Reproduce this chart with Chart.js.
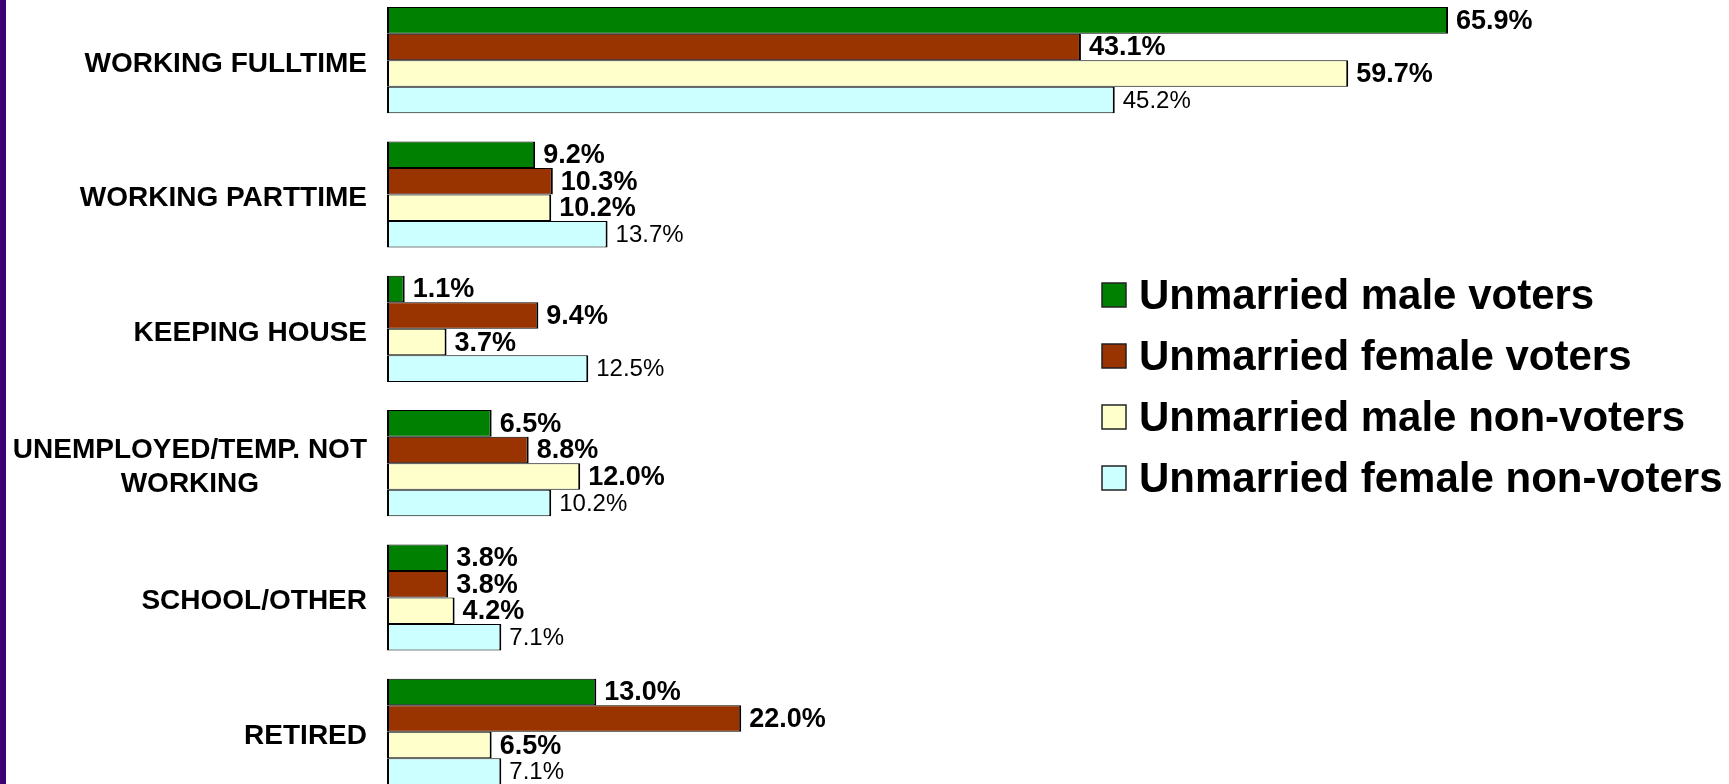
<!DOCTYPE html>
<html>
<head>
<meta charset="utf-8">
<title>Employment status - unmarried voters and non-voters</title>
<script src="https://cdn.jsdelivr.net/npm/chart.js@4.4.1/dist/chart.umd.min.js"></script>
<style>
  html, body { margin: 0; padding: 0; background: #fff; overflow: hidden; }
  body { width: 1729px; height: 784px; position: relative; }
  #stripe { position: absolute; left: 0; top: 0; width: 6px; height: 784px; background: #3c0074; }
  #chart01 { position: absolute; left: 0; top: -7px; }
</style>
</head>
<body>
<canvas id="chart01" width="1729" height="806"></canvas>
<div id="stripe"></div>
<script>
// data
const categories = [
  "WORKING FULLTIME",
  "WORKING PARTTIME",
  "KEEPING HOUSE",
  ["UNEMPLOYED/TEMP. NOT", "WORKING"],
  "SCHOOL/OTHER",
  "RETIRED",
];
const seriesNames = [
  "Unmarried male voters",
  "Unmarried female voters",
  "Unmarried male non-voters",
  "Unmarried female non-voters",
];
const maleVoters = [65.9, 9.2, 1.1, 6.5, 3.8, 13.0];
const femaleVoters = [43.1, 10.3, 9.4, 8.8, 3.8, 22.0];
const maleNonVoters = [59.7, 10.2, 3.7, 12.0, 4.2, 6.5];
const femaleNonVoters = [45.2, 13.7, 12.5, 10.2, 7.1, 7.1];

const seriesColors = ["#008000", "#993300", "#ffffcc", "#ccffff"];
const FONT = '"Liberation Sans", Arial, sans-serif';

var ChartPage = {
  init() {
    this.drawBarChart();
  },

  // y labels, right aligned as a block, lines centred inside it
  categoryLabels: {
    id: "categoryLabels",
    afterDraw(chart) {
      const ctx = chart.ctx;
      const yScale = chart.scales.y;
      const right = chart.chartArea.left - 20;
      const lineHeight = 34;
      ctx.save();
      ctx.font = "bold 28px " + FONT;
      ctx.fillStyle = "#000";
      ctx.textAlign = "center";
      ctx.textBaseline = "middle";
      chart.data.labels.forEach((label, i) => {
        const lines = Array.isArray(label) ? label : [label];
        const blockWidth = Math.max(...lines.map((l) => ctx.measureText(l).width));
        const cx = right - blockWidth / 2;
        const y0 = yScale.getPixelForValue(i) + 4 - ((lines.length - 1) * lineHeight) / 2;
        lines.forEach((line, j) => ctx.fillText(line, cx, y0 + j * lineHeight));
      });
      ctx.restore();
    },
  },

  valueLabels: {
    id: "valueLabels",
    afterDatasetsDraw(chart) {
      const ctx = chart.ctx;
      ctx.save();
      ctx.fillStyle = "#000";
      ctx.textAlign = "left";
      ctx.textBaseline = "middle";
      chart.data.datasets.forEach((ds, di) => {
        const meta = chart.getDatasetMeta(di);
        const plain = di === 3;
        ctx.font = (plain ? "24px " : "bold 27px ") + FONT;
        meta.data.forEach((bar, i) => {
          ctx.fillText(ds.data[i].toFixed(1) + "%", bar.x + 8, bar.y + 1);
        });
      });
      ctx.restore();
    },
  },

  sideLegend: {
    id: "sideLegend",
    afterDraw(chart) {
      const ctx = chart.ctx;
      const left = 1102;
      const top = 302;
      const rowGap = 61;
      ctx.save();
      ctx.font = "bold 42px " + FONT;
      ctx.textBaseline = "middle";
      chart.data.datasets.forEach((ds, i) => {
        const y = top + i * rowGap;
        ctx.fillStyle = ds.backgroundColor;
        ctx.fillRect(left, y - 12, 24, 24);
        ctx.lineWidth = 1.5;
        ctx.strokeStyle = "#222";
        ctx.strokeRect(left, y - 12, 24, 24);
        ctx.fillStyle = "#000";
        ctx.fillText(ds.label, left + 37, y + 2);
      });
      ctx.restore();
    },
  },

  drawBarChart() {
    const ctx01 = document.getElementById("chart01").getContext("2d");
    const series = [maleVoters, femaleVoters, maleNonVoters, femaleNonVoters];

    const dataBar = {
      labels: categories,
      datasets: series.map((values, i) => ({
        label: seriesNames[i],
        data: values,
        backgroundColor: seriesColors[i],
        borderColor: "#000",
        borderWidth: { top: 1, bottom: 1, left: 2, right: 2 },
        borderSkipped: false,
        barPercentage: 1,
        categoryPercentage: 0.79,
      })),
    };

    const configBar = {
      type: "bar",
      data: dataBar,
      options: {
        indexAxis: "y",
        responsive: false,
        animation: false,
        layout: { padding: 0 },
        plugins: {
          legend: { display: false },
          tooltip: { enabled: false },
        },
        scales: {
          x: {
            type: "linear",
            min: 0,
            max: 83.35,
            display: false,
          },
          y: {
            grid: { display: false },
            border: { display: false },
            ticks: { display: false },
            afterFit(scale) {
              scale.width = 387;
            },
          },
        },
      },
      plugins: [this.categoryLabels, this.valueLabels, this.sideLegend],
    };

    const myChart01 = new Chart(ctx01, configBar);
  },
};

window.addEventListener("load", function () {
  ChartPage.init();
});
</script>
</body>
</html>
